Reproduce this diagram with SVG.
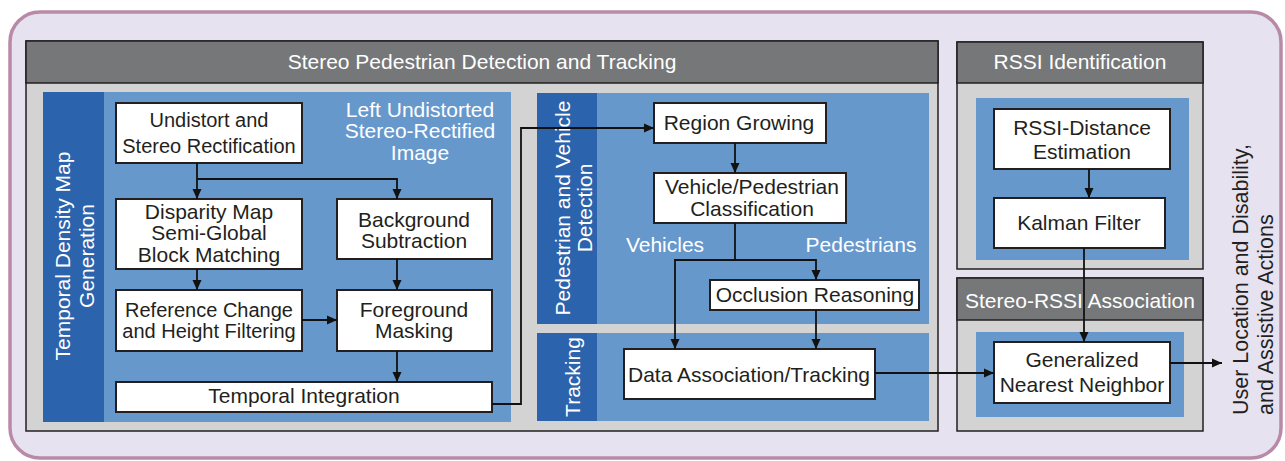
<svg xmlns="http://www.w3.org/2000/svg" width="1285" height="461" viewBox="0 0 1285 461">
<style>
text{font-family:"Liberation Sans",Arial,sans-serif;font-size:21px;fill:#231f20;text-anchor:middle}
.w{fill:#ffffff}
.s{font-size:20px}
.hd{font-size:21px;fill:#ffffff}
.box{fill:#ffffff;stroke:#231f20;stroke-width:2}
.frame{fill:#d3d3d3;stroke:#231f20;stroke-width:1.5}
.head{fill:#767779;stroke:#231f20;stroke-width:1.5}
.blue{fill:#6698cc}
.dark{fill:#2b63ad}
.c{fill:none;stroke:#111;stroke-width:1.8}
</style>
<defs>
<marker id="ah" markerUnits="userSpaceOnUse" markerWidth="11" markerHeight="10" refX="10" refY="5" orient="auto">
<path d="M0,0.5 L10,5 L0,9.5 z" fill="#111"/>
</marker>
</defs>
<rect x="10" y="12" width="1271" height="446" rx="30" fill="#e7e2f0" stroke="#b98aa8" stroke-width="3.5"/>

<g id="stereo-panel">
<rect class="frame" x="26" y="41" width="912" height="390"/>
<rect class="head" x="26" y="41" width="912" height="42"/>
<text class="hd" x="482" y="69">Stereo Pedestrian Detection and Tracking</text>
<rect class="blue" x="43" y="92" width="468" height="330"/>
<rect class="dark" x="43" y="92" width="61" height="330"/>
<text class="w" transform="translate(70,256) rotate(-90)"><tspan x="0" y="0">Temporal Density Map</tspan><tspan x="0" y="24">Generation</tspan></text>
<text class="w"><tspan x="420" y="117">Left Undistorted</tspan><tspan x="420" y="138">Stereo-Rectified</tspan><tspan x="420" y="160">Image</tspan></text>
<rect class="blue" x="537" y="93" width="392" height="231"/>
<rect class="dark" x="537" y="93" width="60" height="231"/>
<text class="w" transform="translate(570,208) rotate(-90)"><tspan x="0" y="0">Pedestrian and Vehicle</tspan><tspan x="0" y="22">Detection</tspan></text>
<text class="w" x="665" y="252">Vehicles</text>
<text class="w" x="861" y="252">Pedestrians</text>
<rect class="blue" x="537" y="333" width="392" height="88"/>
<rect class="dark" x="537" y="333" width="60" height="88"/>
<text class="w" transform="translate(580,377) rotate(-90)" x="0" y="0">Tracking</text>
</g>

<g id="rssi-panel">
<rect class="frame" x="957" y="42" width="246" height="227"/>
<rect class="head" x="957" y="42" width="246" height="41"/>
<text class="hd" x="1080" y="69">RSSI Identification</text>
<rect class="blue" x="976" y="98" width="213" height="162"/>
</g>

<g id="assoc-panel">
<rect class="frame" x="957" y="278" width="246" height="153"/>
<rect class="head" x="957" y="278" width="246" height="42"/>
<text class="hd" x="1080" y="308">Stereo-RSSI Association</text>
<rect class="blue" x="976" y="332" width="208" height="85"/>
</g>

<g id="undistort"><rect class="box" x="116" y="103" width="186" height="60"/>
<text class="s"><tspan x="209" y="127">Undistort and</tspan><tspan x="209" y="153">Stereo Rectification</tspan></text></g>
<g id="disparity"><rect class="box" x="116" y="199" width="186" height="70"/>
<text><tspan x="209" y="219">Disparity Map</tspan><tspan x="209" y="240">Semi-Global</tspan><tspan x="209" y="262">Block Matching</tspan></text></g>
<g id="background"><rect class="box" x="337" y="199" width="155" height="60"/>
<text><tspan x="414" y="227">Background</tspan><tspan x="414" y="248">Subtraction</tspan></text></g>
<g id="reference"><rect class="box" x="116" y="290" width="186" height="61"/>
<text class="s"><tspan x="209" y="317">Reference Change</tspan><tspan x="209" y="338">and Height Filtering</tspan></text></g>
<g id="foreground"><rect class="box" x="337" y="290" width="155" height="61"/>
<text><tspan x="414" y="317">Foreground</tspan><tspan x="414" y="338">Masking</tspan></text></g>
<g id="temporal"><rect class="box" x="116" y="382" width="376" height="30"/>
<text x="304" y="403">Temporal Integration</text></g>
<g id="region"><rect class="box" x="654" y="103" width="172" height="40"/>
<text x="739" y="130">Region Growing</text></g>
<g id="classification"><rect class="box" x="654" y="173" width="192" height="50"/>
<text><tspan x="752" y="194">Vehicle/Pedestrian</tspan><tspan x="752" y="216">Classification</tspan></text></g>
<g id="occlusion"><rect class="box" x="710" y="280" width="209" height="30"/>
<text x="815" y="302">Occlusion Reasoning</text></g>
<g id="data-association"><rect class="box" x="624" y="349" width="251" height="50"/>
<text x="749" y="382">Data Association/Tracking</text></g>
<g id="rssi-distance"><rect class="box" x="994" y="109" width="176" height="60"/>
<text><tspan x="1082" y="135">RSSI-Distance</tspan><tspan x="1082" y="159">Estimation</tspan></text></g>
<g id="kalman"><rect class="box" x="994" y="198" width="171" height="50"/>
<text x="1079" y="230">Kalman Filter</text></g>
<g id="gnn"><rect class="box" x="994" y="342" width="176" height="61"/>
<text><tspan x="1082" y="367">Generalized</tspan><tspan x="1082" y="392">Nearest Neighbor</tspan></text></g>
<g id="output-label">
<text transform="translate(1248,415) rotate(-90)" style="text-anchor:start;font-size:21.5px"><tspan x="0" y="0">User Location and Disability,</tspan><tspan x="0" y="25">and Assistive Actions</tspan></text>
</g>

<g id="connectors">
<path class="c" d="M197,163 V199" marker-end="url(#ah)"/>
<path class="c" d="M197,179 H397 V199" marker-end="url(#ah)"/>
<path class="c" d="M197,269 V290" marker-end="url(#ah)"/>
<path class="c" d="M397,259 V290" marker-end="url(#ah)"/>
<path class="c" d="M302,320 H337" marker-end="url(#ah)"/>
<path class="c" d="M397,351 V382" marker-end="url(#ah)"/>
<path class="c" d="M492,404 H521 V128 H654" marker-end="url(#ah)"/>
<path class="c" d="M735,143 V173" marker-end="url(#ah)"/>
<path class="c" d="M735,223 V260 H816 V280" marker-end="url(#ah)"/>
<path class="c" d="M735,260 H675 V349" marker-end="url(#ah)"/>
<path class="c" d="M816,310 V349" marker-end="url(#ah)"/>
<path class="c" d="M875,373 H994" marker-end="url(#ah)"/>
<path class="c" d="M1089,169 V198" marker-end="url(#ah)"/>
<path class="c" d="M1084,248 V342" marker-end="url(#ah)"/>
<path class="c" d="M1170,363 H1222" marker-end="url(#ah)"/>
</g>
</svg>
